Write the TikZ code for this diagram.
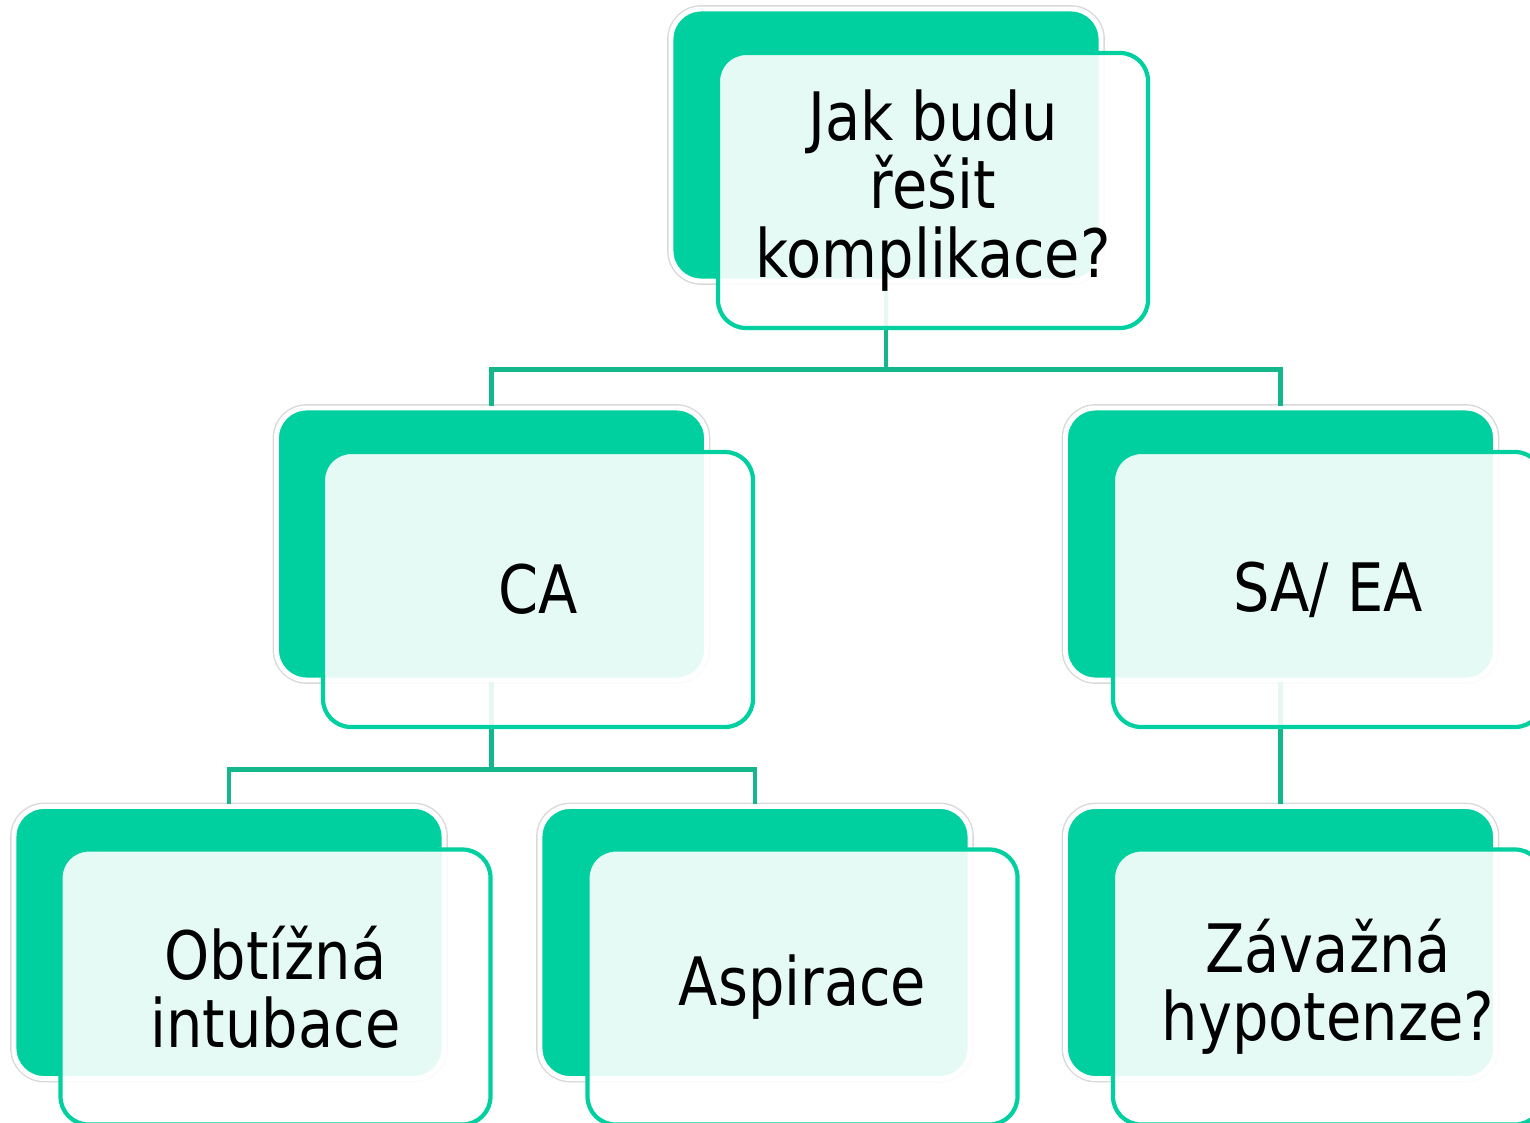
\documentclass[tikz,border=0pt]{standalone}
\usepackage{fontspec}
\setmainfont{DejaVu Sans}[FakeStretch=0.86]
\usepackage{tikz}
\usetikzlibrary{positioning}
\definecolor{mint}{RGB}{0,208,160}
\definecolor{linegreen}{RGB}{20,182,140}
\tikzstyle {back box} = [rectangle, rounded corners=0.3cm, fill=mint, draw=white, line width=1.4pt,
    preaction={draw=black!15, line width=2.2pt}, minimum width=4.3cm, minimum height=2.72cm]
\tikzstyle {front box} = [rectangle, rounded corners=0.28cm, draw=mint, line width=1.2pt,
    fill=white, fill opacity=0.9, text opacity=1, minimum width=4.3cm, minimum height=2.75cm,
    align=center, font=\fontsize{19}{19.4}\selectfont]
\tikzset{conn/.style = {draw=linegreen, line width=1.4pt}}

\begin{document}
\begin{tikzpicture}
            \clip (0, 0) rectangle (15.3, -11.23);
            % zadni obdelniky
            \node[back box] (qb) at (8.86, -1.45) {};
            \node[back box] (cab) at (4.915, -5.44) {};
            \node[back box] (saeab) at (12.805, -5.44) {};
            \node[back box] (obtb) at (2.29, -9.425) {};
            \node[back box] (aspb) at (7.55, -9.425) {};
            \node[back box] (zavb) at (12.805, -9.425) {};
            % spojnice
            \draw[conn] (qb.south) -- ++(0, -0.86) -| (cab.north);
            \draw[conn] (qb.south) -- ++(0, -0.86) -| (saeab.north);
            \draw[conn] (cab.south) -- ++(0, -0.87) -| (obtb.north);
            \draw[conn] (cab.south) -- ++(0, -0.87) -| (aspb.north);
            \draw[conn] (saeab.south) -- (zavb.north);
            % predni obdelniky
            \node[front box] (q) at (9.33, -1.905) {Jak budu\\řešit\\komplikace?};
            \node[front box] (ca) at (5.38, -5.895) {CA};
            \node[front box] (saea) at (13.28, -5.895) {SA/ EA};
            \node[front box] (obt) at (2.755, -9.87) {Obtížná\\intubace};
            \node[front box] (asp) at (8.025, -9.87) {Aspirace};
            \node[front box] (zav) at (13.28, -9.87) {Závažná\\hypotenze?};
        \end{tikzpicture}
\end{document}
